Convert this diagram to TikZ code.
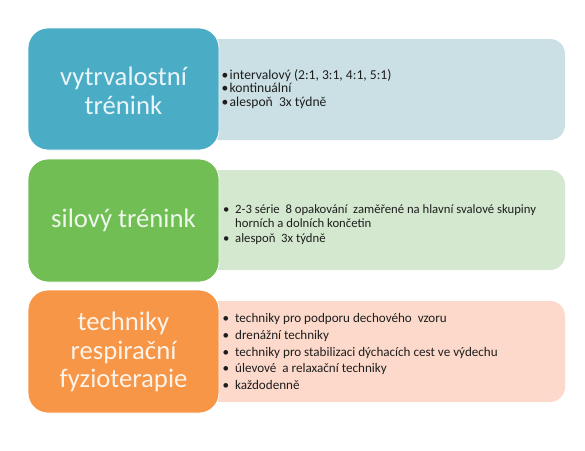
\documentclass[tikz,border=0pt]{standalone}
\usepackage{fontspec}
\setmainfont{Carlito}
\definecolor{cBlue}{HTML}{4BACC6}
\definecolor{cBlueL}{HTML}{CBE0E4}
\definecolor{cGreen}{HTML}{71BE55}
\definecolor{cGreenL}{HTML}{D3E8CE}
\definecolor{cOrange}{HTML}{F79646}
\definecolor{cOrangeL}{HTML}{FCD9CA}
\definecolor{cText}{HTML}{1E1E1E}
\newcommand\mybul[1]{\makebox[#1][l]{\textbullet}}
\tikzset{
  headbox/.style={rounded corners=20pt, draw=white, line width=0.8pt},
  listbox/.style={rounded corners=15pt},
  headtext/.style={align=center, inner sep=0pt, font=\fontsize{26.7}{28.5}\selectfont},
  listtext/.style={align=left, anchor=west, inner sep=0pt, text=cText},
}
\begin{document}
\begin{tikzpicture}[x=1pt,y=-1pt]
\useasboundingbox[fill=white] (0,0) rectangle (585,450);
% row 1
\fill[listbox, cBlueL] (205,39) rectangle (565,140);
\draw[headbox, fill=cBlue] (28,28) rectangle (219,150);
\node[headtext, text=white!88!cBlue] (h1) at (123.5,91) {vytrvalostní\\trénink};
\node[listtext, font=\fontsize{13.6}{13.5}\selectfont] (l1) at (221.5,89)
  {\mybul{8pt}intervalový (2:1, 3:1, 4:1, 5:1)\\
   \mybul{8pt}kontinuální\\
   \mybul{8pt}alespoň\ \ 3x týdně};
% row 2
\fill[listbox, cGreenL] (205,170) rectangle (565,270);
\draw[headbox, fill=cGreen] (28,159) rectangle (219,282);
\node[headtext, text=white!88!cGreen] (h2) at (123.5,220.5) {silový trénink};
\node[listtext, font=\fontsize{12.7}{14.6}\selectfont] (l2) at (223,224.5)
  {\mybul{12pt}2-3 série\ \ 8 opakování\ \ zaměřené na hlavní svalové skupiny\\
   \hspace*{12pt}horních a dolních končetin\\
   \mybul{12pt}alespoň\ \ 3x týdně};
% row 3
\fill[listbox, cOrangeL] (205,301) rectangle (565,402);
\draw[headbox, fill=cOrange] (28,290) rectangle (219,413);
\node[headtext, text=white!88!cOrange] (h3) at (123.5,352) {techniky\\respirační\\fyzioterapie};
\node[listtext, font=\fontsize{13.1}{16.8}\selectfont] (l3) at (222.5,351.5)
  {\mybul{12.5pt}techniky pro podporu dechového\ \ vzoru\\
   \mybul{12.5pt}drenážní techniky\\
   \mybul{12.5pt}techniky pro stabilizaci dýchacích cest ve výdechu\\
   \mybul{12.5pt}úlevové\ \ a relaxační techniky\\
   \mybul{12.5pt}každodenně};
\end{tikzpicture}
\end{document}
